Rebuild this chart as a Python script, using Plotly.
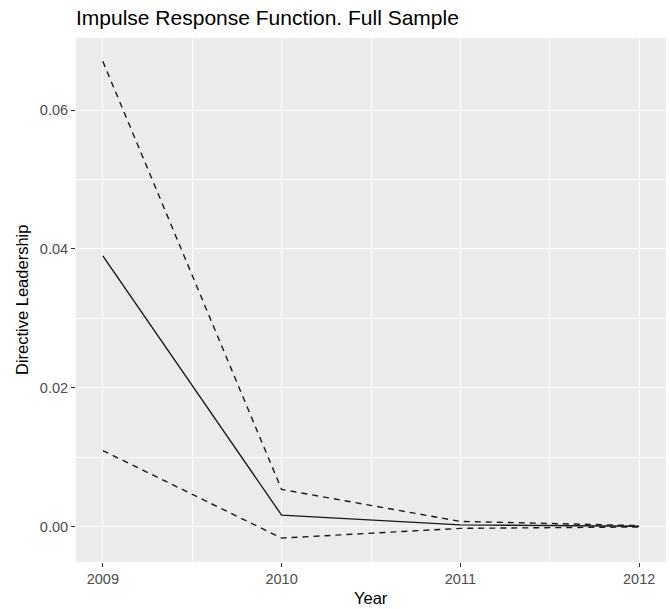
import plotly.graph_objects as go

years = [2009, 2010, 2011, 2012]
irf = [0.039, 0.0017, 0.0003, 0.0001]
upper = [0.067, 0.0054, 0.0008, 0.0002]
lower = [0.011, -0.0016, -0.0002, 0.0000]

line_color = "#1a1a1a"
FONT = "Liberation Sans, Arial, sans-serif"
fig = go.Figure()
fig.add_trace(go.Scatter(x=years, y=upper, mode="lines",
                         line=dict(color=line_color, width=1.4, dash="6px,5px"),
                         showlegend=False))
fig.add_trace(go.Scatter(x=years, y=lower, mode="lines",
                         line=dict(color=line_color, width=1.4, dash="6px,5px"),
                         showlegend=False))
fig.add_trace(go.Scatter(x=years, y=irf, mode="lines",
                         line=dict(color=line_color, width=1.4),
                         showlegend=False))

tick_font = dict(family=FONT, size=14.5, color="#4d4d4d")

fig.update_layout(
    width=670, height=609,
    margin=dict(l=76, r=4, t=38, b=47),
    paper_bgcolor="white",
    plot_bgcolor="#EBEBEB",
    title=dict(text="Impulse Response Function. Full Sample",
               x=0, xanchor="left", xref="paper",
               y=1 - 18/609, yanchor="middle",
               font=dict(family=FONT, size=21, color="#000000")),
    xaxis=dict(
        range=[2008.85, 2012.15],
        tickvals=years, ticktext=[str(y) for y in years],
        showgrid=True, gridcolor="white", gridwidth=1.2,
        zeroline=False, showline=False, automargin=False,
        ticks="outside", ticklen=4, tickwidth=1.1, tickcolor="#333333",
        tickfont=tick_font,
        minor=dict(dtick=0.5, tick0=2009, showgrid=True, gridcolor="white", gridwidth=0.6, ticks=""),
    ),
    yaxis=dict(
        range=[-0.00504, 0.07036],
        tickvals=[0.0, 0.02, 0.04, 0.06],
        ticktext=["0.00", "0.02", "0.04", "0.06"],
        showgrid=True, gridcolor="white", gridwidth=1.2,
        zeroline=False, showline=False, automargin=False,
        ticks="outside", ticklen=4, tickwidth=1.1, tickcolor="#333333",
        tickfont=tick_font,
        minor=dict(tickvals=[0.01, 0.03, 0.05], showgrid=True, gridcolor="white", gridwidth=0.6, ticks=""),
    ),
    annotations=[
        dict(text="Year", xref="paper", yref="paper", x=0.5, y=-(598 - 562) / 524,
             xanchor="center", yanchor="middle", showarrow=False,
             font=dict(family=FONT, size=16.5, color="#000000")),
        dict(text="Directive Leadership", xref="paper", yref="paper",
             x=-(76 - 22) / 590, y=0.5, textangle=-90,
             xanchor="center", yanchor="middle", showarrow=False,
             font=dict(family=FONT, size=16.5, color="#000000")),
    ],
)

fig.write_html("out.html", config={"displayModeBar": False},
               post_script="document.body.style.margin='0px';document.body.style.overflow='hidden';")
